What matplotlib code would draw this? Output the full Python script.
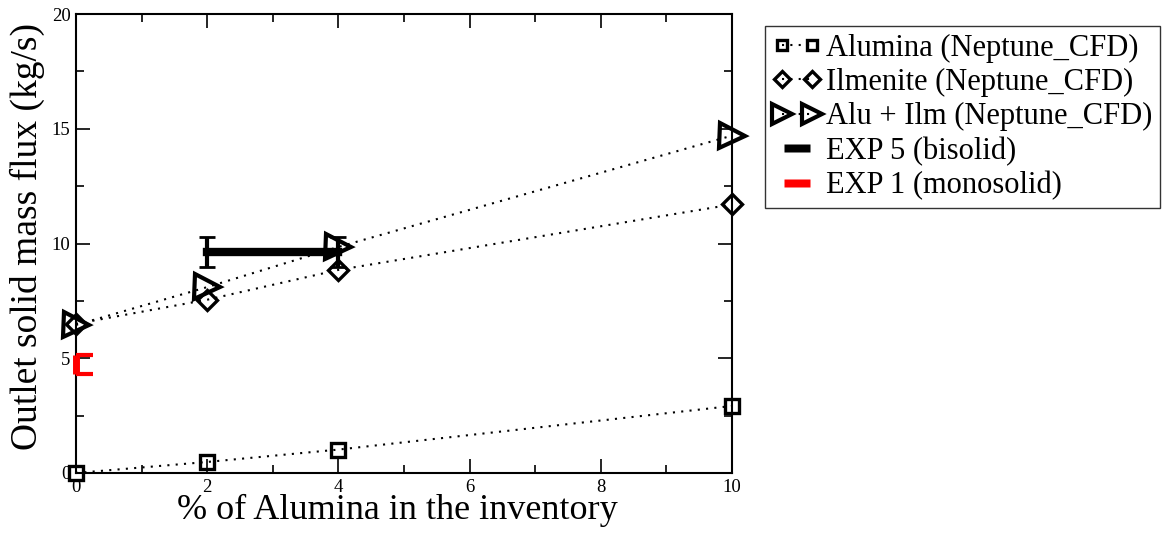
import matplotlib.pyplot as plt
from matplotlib.lines import Line2D
from matplotlib.legend_handler import HandlerLine2D

plt.rcParams['font.family'] = ['Liberation Serif', 'DejaVu Serif']

# données
x_pct = [0, 2, 4, 10]
alumina = [0.0, 0.48, 1.02, 2.92]
ilmenite = [6.5, 7.55, 8.85, 11.7]
alu_ilm = [6.45, 8.1, 9.85, 14.7]

exp5_x = [2, 4]
exp5_y = [9.63, 9.63]
exp5_err = [0.67, 0.67]

exp1_x = [0]
exp1_y = [4.72]
exp1_err = [0.42]

labels = ['Alumina (Neptune_CFD)', 'Ilmenite (Neptune_CFD)', 'Alu + Ilm (Neptune_CFD)',
          'EXP 5 (bisolid)', 'EXP 1 (monosolid)']

fig = plt.figure(figsize=(11.73, 5.33), dpi=100)
ax = fig.add_axes([0.0648, 0.1126, 0.5592, 0.8611])

dots = (0, (1, 3))
l1, = ax.plot(x_pct, alumina, color='k', ls=dots, lw=1.5, marker='s', ms=9.5,
              mfc='none', mec='k', mew=2.4, clip_on=False, zorder=3)
l2, = ax.plot(x_pct, ilmenite, color='k', ls=dots, lw=1.5, marker='D', ms=10,
              mfc='none', mec='k', mew=2.4, clip_on=False, zorder=3)
l3, = ax.plot(x_pct, alu_ilm, color='k', ls=dots, lw=1.5, marker='>', ms=18,
              mfc='none', mec='k', mew=3, clip_on=False, zorder=3)

# EXP 5 : trait épais avec barres d'erreur
e5 = ax.errorbar(exp5_x, exp5_y, yerr=exp5_err, color='k', lw=6, elinewidth=3,
                 capsize=6, capthick=2, zorder=2)

# EXP 1 : barre d'erreur rouge sur l'axe
e1 = ax.errorbar(exp1_x, exp1_y, yerr=exp1_err, color='red', lw=0, elinewidth=5,
                 capsize=12, capthick=3, zorder=4)
for c in e1[2]:
    c.set_clip_on(False)

ax.set_xlim(0, 10)
ax.set_ylim(0, 20)
ax.set_xticks([0, 2, 4, 6, 8, 10])
ax.set_xticks(range(0, 11), minor=True)
ax.set_yticks([0, 5, 10, 15, 20])
ax.set_yticks([2.5, 7.5, 12.5, 17.5], minor=True)
ax.tick_params(which='both', direction='in', top=True, right=True, labelsize=13.5, pad=4)
ax.tick_params(which='major', length=10, width=1.2)
ax.tick_params(which='minor', length=6, width=1.2)
for s in ax.spines.values():
    s.set_linewidth(1.5)

ax.set_xlabel('% of Alumina in the inventory', fontsize=26, labelpad=2)
ax.xaxis.set_label_coords(0.49, -0.045, transform=ax.transAxes)
ax.xaxis.label.set_va('top')
ax.set_ylabel('Outlet solid mass flux (kg/s)', fontsize=27, labelpad=5)
ax.yaxis.set_label_coords(-0.047, 0.515)

# poignées de légende : petits rectangles épais
bar = [(-1.6, -0.5), (1.6, -0.5), (1.6, 0.5), (-1.6, 0.5), (-1.6, -0.5)]
h4 = Line2D([], [], ls='none', marker=bar, ms=23.5, color='k', mec='none')
h5 = Line2D([], [], ls='none', marker=bar, ms=23.5, color='red', mec='none')
leg = fig.legend([l1, l2, l3, h4, h5], labels, loc='upper left',
                 bbox_to_anchor=(765 / 1173, 1 - 26 / 533), fontsize=22,
                 frameon=True, fancybox=False, edgecolor='k', numpoints=2,
                 handlelength=1.6, handletextpad=0.15, labelspacing=0.17,
                 borderpad=0.25, borderaxespad=0, markerscale=0.8,
                 handler_map={h4: HandlerLine2D(numpoints=1), h5: HandlerLine2D(numpoints=1)})
leg.get_frame().set_linewidth(1)

fig.savefig('out.png', dpi=100)
